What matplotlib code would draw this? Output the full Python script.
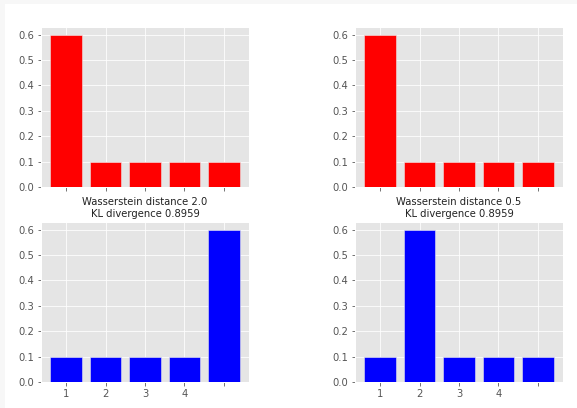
import numpy as np
import matplotlib
matplotlib.use("Agg")
import matplotlib.pyplot as plt
from matplotlib.patches import Rectangle

plt.style.use('ggplot')

# bar heights of the four distributions
p_top_left = [0.6, 0.1, 0.1, 0.1, 0.1]
p_top_right = [0.6, 0.1, 0.1, 0.1, 0.1]
q_bottom_left = [0.1, 0.1, 0.1, 0.1, 0.6]
q_bottom_right = [0.1, 0.6, 0.1, 0.1, 0.1]

tick_labels = ["1", "2", "3", "4", ""]
titles = ["Wasserstein distance 2.0\nKL divergence 0.8959",
          "Wasserstein distance 0.5\nKL divergence 0.8959"]

x = np.arange(len(p_top_left))

fig = plt.figure(figsize=(577 / 72, 408 / 72), dpi=72)
fig.patch.set_facecolor('white')

# light grey strip along top and left, like the notebook output frame
fig.patches.append(Rectangle((0, 1 - 4 / 408), 1, 4 / 408, transform=fig.transFigure,
                             facecolor='#f7f7f7', edgecolor='none', zorder=-1))
fig.patches.append(Rectangle((0, 0), 5 / 577, 1, transform=fig.transFigure,
                             facecolor='#f7f7f7', edgecolor='none', zorder=-1))

left_cols = [41 / 577, 355 / 577]
width = 208 / 577
rows_bottom = [1 - 187 / 408, 1 - 382 / 408]
height = 160 / 408

data = [[p_top_left, p_top_right], [q_bottom_left, q_bottom_right]]
colors = ['red', 'blue']

for r in range(2):
    for c in range(2):
        ax = fig.add_axes([left_cols[c], rows_bottom[r], width, height])
        ax.bar(x, data[r][c], color=colors[r], edgecolor='#eeeeee', linewidth=0.5)
        ax.set_yticks([0.0, 0.1, 0.2, 0.3, 0.4, 0.5, 0.6])
        ax.set_xticks(x)
        ax.tick_params(labelsize=10, colors='#555555')
        ax.tick_params(axis='both', labelcolor='#555555')
        if r == 0:
            ax.set_xticklabels([""] * len(x))
        else:
            ax.set_xticklabels(tick_labels)
            ax.set_title(titles[c], fontsize=10, color='#222222', pad=5)

fig.savefig("out.png", dpi=72, facecolor=fig.get_facecolor())
